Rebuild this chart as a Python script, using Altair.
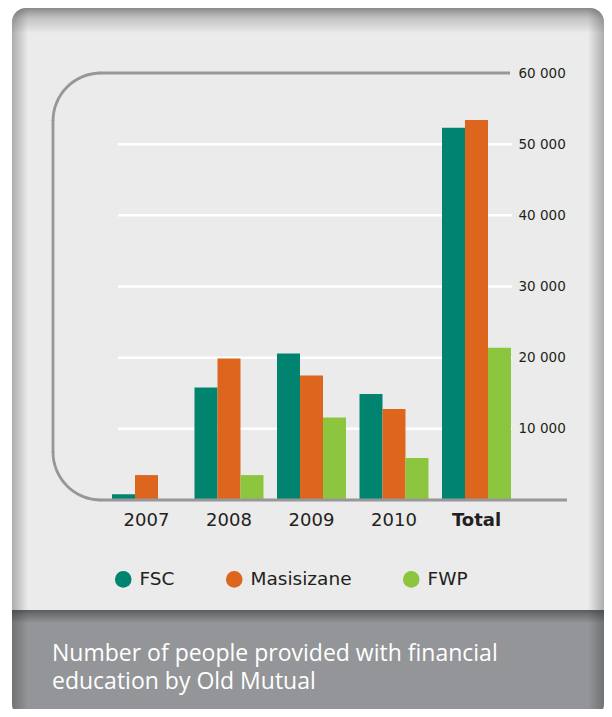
import math
import altair as alt
import pandas as pd

# ---------------- data ----------------
years = ["2007", "2008", "2009", "2010", "Total"]
series = ["FSC", "Masisizane", "FWP"]
fsc = [800, 15800, 20600, 14900, 52300]
masisizane = [3500, 19900, 17500, 12800, 53400]
fwp = [0, 3500, 11600, 5900, 21400]
y_ticks = [10000, 20000, 30000, 40000, 50000, 60000]
grid_values = [10000, 20000, 30000, 40000, 50000]
top_value = [60000]
base_value = [0]
caption_lines = ["Number of people provided with financial", "education by Old Mutual"]

colors = ["#00846f", "#dd651e", "#8cc63f"]
frame_color = "#97979a"
text_color = "#231f20"

rows = []
for name, vals in zip(series, [fsc, masisizane, fwp]):
    for yr, v in zip(years, vals):
        rows.append({"year": yr, "series": name, "value": v})
bars_df = pd.DataFrame(rows)
grid_df = pd.DataFrame({"value": grid_values})
top_df = pd.DataFrame({"value": top_value})
base_df = pd.DataFrame({"value": base_value})
one = alt.Data(values=[{"k": 1}])

W, H = 514, 427
R = 48

yscale = alt.Scale(domain=[0, 60000], nice=False, zero=True)
yaxis = alt.Axis(
    orient="right", offset=-57, values=y_ticks, domain=False, ticks=False,
    grid=False, labelPadding=8, labelFont="DejaVu Sans", labelFontSize=13.5,
    labelColor=text_color,
    labelExpr="replace(format(datum.value, ','), ',', ' ')",
    title=None, zindex=1,
)


def ydef():
    return alt.Y("value:Q", scale=yscale, axis=yaxis)


# ---------------- background panel ----------------
panel_grad = alt.LinearGradient(
    gradient="linear", x1=0, x2=0, y1=0, y2=1,
    stops=[
        alt.GradientStop(offset=0.0, color="#8a8a8a"),
        alt.GradientStop(offset=0.014, color="#c2c2c2"),
        alt.GradientStop(offset=0.036, color="#ebebeb"),
        alt.GradientStop(offset=0.8475, color="#ebebeb"),
        alt.GradientStop(offset=0.8480, color="#5c5d60"),
        alt.GradientStop(offset=0.866, color="#939598"),
        alt.GradientStop(offset=1.0, color="#939598"),
    ],
)
side_grad = alt.LinearGradient(
    gradient="linear", x1=0, x2=1, y1=0, y2=0,
    stops=[
        alt.GradientStop(offset=0.0, color="rgba(40,40,40,0.32)"),
        alt.GradientStop(offset=0.027, color="rgba(40,40,40,0)"),
        alt.GradientStop(offset=0.973, color="rgba(40,40,40,0)"),
        alt.GradientStop(offset=1.0, color="rgba(40,40,40,0.32)"),
    ],
)

panel = alt.Chart(one).mark_rect(fill=panel_grad, cornerRadius=14).encode(
    x=alt.value(-41), x2=alt.value(551), y=alt.value(-65), y2=alt.value(645)
)
sides = alt.Chart(one).mark_rect(fill=side_grad, cornerRadius=14).encode(
    x=alt.value(-41), x2=alt.value(551), y=alt.value(-65), y2=alt.value(645)
)

# ---------------- gridlines & frame ----------------
grid = alt.Chart(grid_df).mark_rule(color="white", strokeWidth=2.5).encode(
    y=ydef(), x=alt.value(65), x2=alt.value(459)
)
top_line = alt.Chart(top_df).mark_rule(color=frame_color, strokeWidth=2.8).encode(
    y=ydef(), x=alt.value(R - 1), x2=alt.value(457)
)
base_line = alt.Chart(base_df).mark_rule(color=frame_color, strokeWidth=2.8).encode(
    y=ydef(), x=alt.value(R - 1), x2=alt.value(W)
)
left_line = alt.Chart(one).mark_rule(color=frame_color, strokeWidth=2.8).encode(
    x=alt.value(0), y=alt.value(R - 1), y2=alt.value(H - R + 1)
)
arc_top = alt.Chart(one).mark_arc(
    radius=R + 1.4, radius2=R - 1.4, theta=3 * math.pi / 2, theta2=2 * math.pi,
    color=frame_color,
).encode(x=alt.value(R), y=alt.value(R))
arc_bottom = alt.Chart(one).mark_arc(
    radius=R + 1.4, radius2=R - 1.4, theta=math.pi, theta2=3 * math.pi / 2,
    color=frame_color,
).encode(x=alt.value(R), y=alt.value(H - R))

# ---------------- bars ----------------
bars = alt.Chart(bars_df).mark_bar().encode(
    x=alt.X(
        "year:N", sort=years,
        scale=alt.Scale(paddingInner=0.1636, paddingOuter=0.697, align=0.513),
        axis=alt.Axis(
            orient="bottom", domain=False, ticks=False, labelPadding=11,
            labelFont="DejaVu Sans", labelFontSize=18, labelColor=text_color,
            labelAngle=0, title=None, zindex=1,
            labelFontWeight={"condition": {"test": "datum.value === 'Total'", "value": "bold"},
                             "value": "normal"},
        ),
    ),
    xOffset=alt.XOffset("series:N", sort=series,
                        scale=alt.Scale(paddingInner=0, paddingOuter=0)),
    y=ydef(),
    color=alt.Color(
        "series:N",
        scale=alt.Scale(domain=series, range=colors),
        legend=alt.Legend(
            orient="none", legendX=61, legendY=497, direction="horizontal",
            title=None, symbolType="circle", symbolSize=275, symbolStrokeWidth=0,
            symbolOpacity=1, labelFont="DejaVu Sans", labelFontSize=18.5,
            labelColor=text_color, labelOffset=7, columnPadding=50, padding=0,
            zindex=1,
        ),
    ),
)

# ---------------- caption ----------------
caption = alt.Chart(one).mark_text(
    text=caption_lines, align="left", baseline="alphabetic", font="Open Sans",
    fontSize=23, lineHeight=28, color="white",
).encode(x=alt.value(-1), y=alt.value(587.5))

chart = alt.layer(
    panel, sides, grid, top_line, left_line, arc_top, arc_bottom, bars, base_line, caption
).properties(
    width=W, height=H,
    padding={"left": 45, "top": 65, "right": 37, "bottom": 209},
    autosize=alt.AutoSizeParams(type="none"),
    background="white",
).configure_view(stroke="transparent")

chart.save("out.html", embed_options={"renderer": "svg", "actions": False})
